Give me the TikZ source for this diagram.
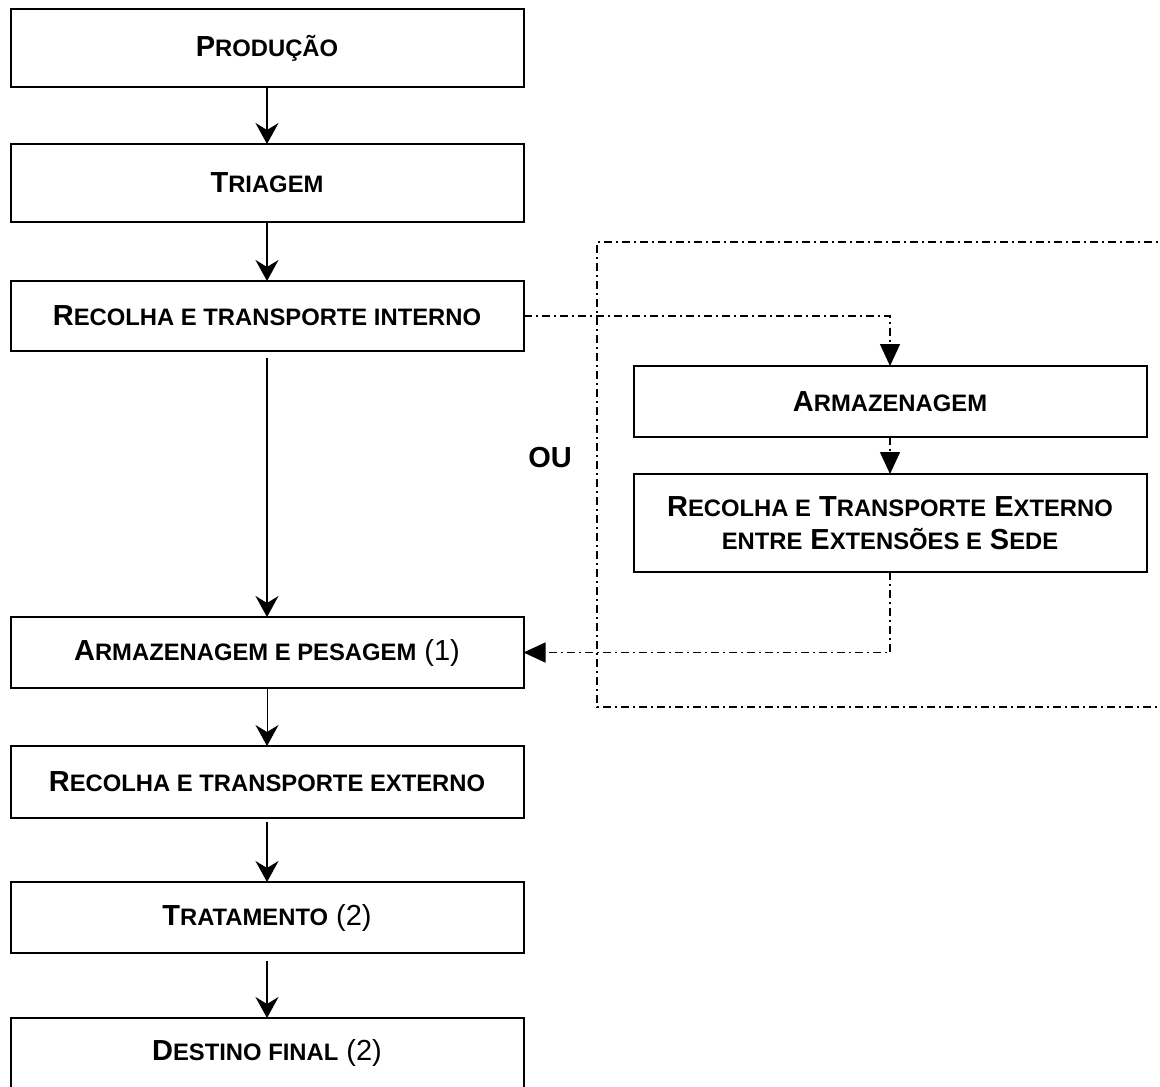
\documentclass[tikz,border=0pt]{standalone}
\usepackage{fontspec}
\setmainfont{Liberation Sans}
\usetikzlibrary{positioning, arrows.meta}

% small letters of the fake small caps
\newcommand{\smc}[1]{{\fontsize{11.9}{14}\selectfont #1}}

\begin{document}
\begin{tikzpicture}[
        x=0.5pt, y=-0.5pt,
        font=\fontsize{14.5}{16.5}\selectfont\bfseries,
        node distance=29pt,
        stage/.style={
            draw,
            line width=1pt,
            align=center,
            inner sep=4pt,
            outer sep=0pt,
            minimum width=256.5pt
        },
        flow/.style={
            -{Stealth[length=10.5pt, width=11.5pt, inset=3.5pt]},
            line width=1pt
        },
        alt/.style={
            -{Triangle[length=11pt, width=10pt]},
            line width=0.7pt,
            dash pattern=on 4pt off 2pt on 1pt off 2pt
        }
    ]
    \useasboundingbox (0,0) rectangle (1160,1086);

    \node[stage, minimum height=39pt] (prod) at (267,48) {P\smc{RODUÇÃO}};

    \node[stage, minimum height=39pt, below=28.5pt of prod] (triag) {T\smc{RIAGEM}};

    \node[stage, minimum height=35pt, below=29.5pt of triag] (recint) {R\smc{ECOLHA E TRANSPORTE INTERNO}};

    \node[stage, minimum height=35.5pt, below=133pt of recint] (armpes) {A\smc{RMAZENAGEM E PESAGEM} \mdseries(1)};

    \node[stage, minimum height=36pt, below=of armpes] (recext) {R\smc{ECOLHA E TRANSPORTE EXTERNO}};

    \node[stage, minimum height=35.5pt, below=32pt of recext] (trat) {T\smc{RATAMENTO} \mdseries(2)};

    \node[stage, minimum height=35pt, below=32.5pt of trat] (dest) {D\smc{ESTINO FINAL} \mdseries(2)};

    \node[stage, minimum height=35.5pt, below right=7.5pt and 55pt of recint] (armz) {A\smc{RMAZENAGEM}};

    \node[stage, minimum height=49pt, below=18.5pt of armz] (recsede) {R\smc{ECOLHA E} T\smc{RANSPORTE} E\smc{XTERNO}\\
    \smc{ENTRE} E\smc{XTENSÕES E} S\smc{EDE}};

    \node (ou) at (550,458) {OU};

    % dash-dot frame, open to the right
    \draw[line width=0.7pt, dash pattern=on 4pt off 2pt on 1pt off 2pt]
        (1170,242) -- (597,242) -- (597,707) -- (1170,707);

    \draw[flow] (prod) -- (triag);
    \draw[flow] (triag) -- (recint);
    \draw[flow, shorten <=3.5pt] (recint) -- (armpes);
    \draw[flow, line width=0.5pt] (armpes) -- (recext);
    \draw[flow, shorten <=2pt] (recext) -- (trat);
    \draw[flow, shorten <=4pt] (trat) -- (dest);

    \draw[alt] (recint.east) -| (armz.north);
    \draw[alt] (armz) -- (recsede);
    \draw[alt] (recsede.south) |- (armpes.east);
\end{tikzpicture}
\end{document}
